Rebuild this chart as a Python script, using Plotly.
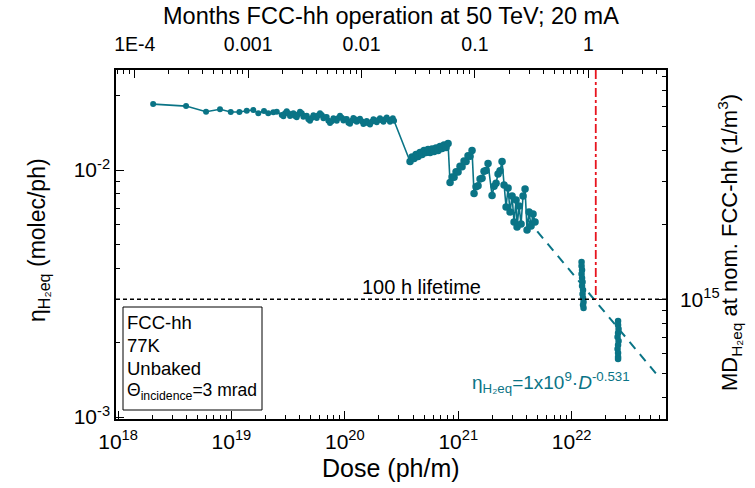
import math
import plotly.graph_objects as go

# ---------------- data ----------------
dose_early = [2.04e18, 3.98e18, 5.97e18, 7.93e18, 9.86e18, 1.175e19, 1.365e19, 1.56e19, 1.726e19,
              1.937e19, 2.11e19, 2.34e19, 2.51e19]
eta_early = [0.01849, 0.01815, 0.01722, 0.01762, 0.01718, 0.01718, 0.01738, 0.01750, 0.01698,
             0.01734, 0.01698, 0.01714, 0.01722]

dose_plateau = [
    2.778e19, 2.874e19, 2.970e19, 3.072e19, 3.176e19, 3.286e19, 3.401e19, 3.517e19, 3.637e19, 3.762e19,
    3.890e19, 4.024e19, 4.169e19, 4.310e19, 4.457e19, 4.610e19, 4.766e19, 4.930e19, 5.107e19, 5.283e19,
    5.461e19, 5.649e19, 5.839e19, 6.040e19, 6.257e19, 6.472e19, 6.690e19, 6.920e19, 7.154e19, 7.400e19,
    7.666e19, 7.930e19, 8.197e19, 8.479e19, 8.766e19, 9.068e19, 9.391e19, 9.714e19,
    1.004e20, 1.039e20, 1.074e20, 1.111e20, 1.150e20, 1.189e20, 1.230e20, 1.272e20, 1.315e20, 1.360e20,
    1.409e20, 1.457e20, 1.507e20, 1.559e20, 1.612e20, 1.668e20, 1.727e20, 1.786e20, 1.846e20, 1.910e20,
    1.974e20, 2.042e20, 2.115e20, 2.188e20, 2.262e20, 2.340e20, 2.419e20, 2.502e20, 2.592e20, 2.650e20,
    2.716e20,
]
eta_plateau = [
    0.01670, 0.01651, 0.01697, 0.01729, 0.01697, 0.01654, 0.01675, 0.01697, 0.01654, 0.01636,
    0.01681, 0.01720, 0.01697, 0.01643, 0.01654, 0.01659, 0.01604, 0.01583, 0.01624, 0.01665,
    0.01643, 0.01624, 0.01665, 0.01698, 0.01670, 0.01621, 0.01635, 0.01639, 0.01583, 0.01550,
    0.01574, 0.01620, 0.01604, 0.01583, 0.01624, 0.01658, 0.01628, 0.01586,
    0.01604, 0.01609, 0.01554, 0.01540, 0.01583, 0.01624, 0.01604, 0.01568, 0.01594, 0.01613,
    0.01574, 0.01536, 0.01554, 0.01579, 0.01545, 0.01529, 0.01568, 0.01606, 0.01583, 0.01560,
    0.01594, 0.01621, 0.01589, 0.01567, 0.01604, 0.01632, 0.01598, 0.01567, 0.01594, 0.01620,
    0.01583,
]

dose_ramps = [
    3.758e20, 3.914e20, 4.076e20, 4.245e20, 4.421e20, 4.604e20, 4.795e20, 4.994e20, 5.201e20, 5.416e20,
    5.641e20, 5.875e20, 6.118e20, 6.372e20, 6.636e20, 6.911e20, 7.197e20, 7.496e20, 7.806e20, 8.130e20,
    8.466e20, 8.817e20, 9.182e20, 9.563e20, 9.959e20, 1.0372e21, 1.0802e21, 1.1249e21, 1.1715e21,
    1.2201e21, 1.2706e21, 1.3233e21,
    1.378e21, 1.435e21, 1.495e21, 1.557e21, 1.621e21, 1.688e21, 1.758e21, 1.831e21,
    1.987e21, 2.069e21, 2.155e21, 2.244e21, 2.337e21, 2.434e21,
    2.534e21, 2.640e21, 2.750e21, 2.863e21, 2.982e21, 3.105e21, 3.234e21, 3.300e21, 3.437e21, 3.579e21,
    3.728e21, 3.882e21, 4.043e21, 4.210e21, 4.385e21, 4.566e21, 4.755e21,
]
eta_ramps = [
    0.010824, 0.011289, 0.011134, 0.011555, 0.011342, 0.011771, 0.011555, 0.011993, 0.011771, 0.012106,
    0.011771, 0.012162, 0.011882, 0.012276, 0.011993, 0.012449, 0.012219, 0.012624, 0.012333, 0.012802,
    0.008900, 0.009377, 0.009351, 0.009852, 0.009815, 0.010351, 0.010312, 0.010875, 0.010835,
    0.011415, 0.011383, 0.011993,
    0.008032, 0.008566, 0.008630, 0.009204, 0.009273, 0.009889, 0.009963, 0.010625,
    0.007887, 0.008591, 0.008850, 0.009643, 0.009935, 0.010824,
    0.008694, 0.007085, 0.008455, 0.006761, 0.007847, 0.006158, 0.007558, 0.005877, 0.007152, 0.006045,
    0.007847, 0.008377, 0.005715, 0.006761, 0.005933, 0.006637, 0.006158,
]

dose_cluster1 = [1.223e22, 1.223e22, 1.235e22, 1.223e22, 1.235e22, 1.248e22, 1.235e22, 1.260e22,
                 1.248e22, 1.260e22, 1.273e22, 1.260e22, 1.273e22]
eta_cluster1 = [0.004240, 0.004086, 0.003936, 0.003792, 0.003654, 0.003520, 0.003391, 0.003267,
                0.003148, 0.003032, 0.002921, 0.002840, 0.002762]

dose_cluster2 = [2.566e22, 2.566e22, 2.592e22, 2.566e22, 2.540e22, 2.592e22, 2.566e22, 2.540e22,
                 2.566e22, 2.566e22, 2.566e22]
eta_cluster2 = [0.002447, 0.002358, 0.002271, 0.002188, 0.002108, 0.002031, 0.001957, 0.001885,
                0.001816, 0.001750, 0.001718]

fit_dose = [4.04e21, 5.78e22]
fit_eta = [6.33e-3, 1.466e-3]

lifetime_eta = 3.0e-3          # 100 h lifetime level
red_dose = 1.632e22            # dose at the red marker line
dose_per_month = 1.403e22      # 1 month of FCC-hh operation
md_at_lifetime = 1e15          # density matching lifetime_eta

x_ticks = [1e18, 1e19, 1e20, 1e21, 1e22]
x_ticktext = ["10<sup>18</sup>", "10<sup>19</sup>", "10<sup>20</sup>", "10<sup>21</sup>", "10<sup>22</sup>"]
y_ticks = [1e-3, 1e-2]
y_ticktext = ["10<sup>-3</sup>", "10<sup>-2</sup>"]
month_ticks = [1e-4, 1e-3, 1e-2, 1e-1, 1]
month_ticktext = ["1E-4", "0.001", "0.01", "0.1", "1"]
md_ticks = [1e15]
md_ticktext = ["10<sup>15</sup>"]

# ---------------- styling ----------------
TEAL = "#0A7486"
FONT = "Liberation Sans, Arial, Helvetica, sans-serif"
L, R, T, B = 116, 89, 70, 69
W, H = 755, 488
PW, PH = W - L - R, H - T - B

xr = [17.982, 22.832]
yr = [-3.008, -1.595]
shift = math.log10(dose_per_month)
md_shift = math.log10(md_at_lifetime) - math.log10(lifetime_eta)


def px_x(px):
    return (px - L) / PW


def px_y(py):
    return (H - B - py) / PH


fig = go.Figure()
fig.add_trace(go.Scatter(x=fit_dose, y=fit_eta, mode="lines",
                         line=dict(color=TEAL, width=2, dash="9px,7px"), hoverinfo="skip"))
main_x = dose_early + dose_plateau + dose_ramps
main_y = eta_early + eta_plateau + eta_ramps
main_sizes = [6] * (len(dose_early) + len(dose_plateau)) + [7.5] * len(dose_ramps)
fig.add_trace(go.Scatter(x=main_x, y=main_y, mode="lines+markers",
                         line=dict(color=TEAL, width=1.6),
                         marker=dict(color=TEAL, size=main_sizes, opacity=1, line=dict(width=0))))
for xs, ys in [(dose_cluster1, eta_cluster1), (dose_cluster2, eta_cluster2)]:
    fig.add_trace(go.Scatter(x=xs, y=ys, mode="lines+markers",
                             line=dict(color=TEAL, width=1.6),
                             marker=dict(color=TEAL, size=6.5, opacity=1, line=dict(width=0))))
# invisible trace so the secondary axes get drawn
fig.add_trace(go.Scatter(x=[1], y=[md_at_lifetime], xaxis="x2", yaxis="y2", mode="markers",
                         marker=dict(opacity=0), hoverinfo="skip"))

axis_common = dict(type="log", showgrid=False, zeroline=False, showline=True, linecolor="black",
                   linewidth=1.5, ticks="inside", ticklen=8, tickwidth=1.2, tickcolor="black",
                   tickfont=dict(family=FONT, size=21, color="black"),
                   minor=dict(ticks="inside", ticklen=4, tickwidth=1.2, tickcolor="black",
                              dtick="D1", showgrid=False))

fig.update_layout(
    width=W, height=H, margin=dict(l=L, r=R, t=T, b=B),
    paper_bgcolor="white", plot_bgcolor="white", showlegend=False,
    font=dict(family=FONT, color="black"),
    xaxis=dict(axis_common, range=xr, tickmode="array", tickvals=x_ticks, ticktext=x_ticktext,
               ticklabelstandoff=3),
    yaxis=dict(axis_common, range=yr, tickmode="array", tickvals=y_ticks, ticktext=y_ticktext),
    xaxis2=dict(axis_common, overlaying="x", side="top", anchor="y",
                range=[xr[0] - shift, xr[1] - shift], tickmode="array",
                tickvals=month_ticks, ticktext=month_ticktext, ticklabelstandoff=9,
                tickfont=dict(family=FONT, size=19.5, color="black")),
    yaxis2=dict(axis_common, overlaying="y", side="right", anchor="x",
                range=[yr[0] + md_shift, yr[1] + md_shift], tickmode="array",
                tickvals=md_ticks, ticktext=md_ticktext, ticklabelstandoff=8),
)

# reference lines
fig.add_shape(type="line", xref="paper", yref="y", x0=0, x1=1, y0=lifetime_eta, y1=lifetime_eta,
              line=dict(color="black", width=1.6, dash="4px,3px"))
fig.add_shape(type="line", xref="x", yref="paper", x0=red_dose, x1=red_dose,
              y0=1, y1=(math.log10(lifetime_eta) - yr[0]) / (yr[1] - yr[0]),
              line=dict(color="#E8141E", width=1.8, dash="dashdot"))

# info box
fig.add_shape(type="rect", xref="paper", yref="paper", x0=px_x(123), x1=px_x(262),
              y0=px_y(410), y1=px_y(307), line=dict(color="black", width=1), fillcolor="white")
for txt, py, sz in [("FCC-hh", 322, 18.5), ("77K", 345, 18.5), ("Unbaked", 368, 18.5),
                    ("Θ<sub>incidence</sub>=3 mrad", 391, 17.5)]:
    fig.add_annotation(xref="paper", yref="paper", x=px_x(125), y=px_y(py), text=txt,
                       showarrow=False, xanchor="left", yanchor="middle",
                       font=dict(family=FONT, size=sz, color="black"))


def label(text, px, py, size, color="black", angle=0):
    fig.add_annotation(xref="paper", yref="paper", x=px_x(px), y=px_y(py), text=text,
                       showarrow=False, xanchor="center", yanchor="middle", textangle=angle,
                       font=dict(family=FONT, size=size, color=color))


label("100 h lifetime", 421, 287, 20)
label("η<sub>H₂eq</sub>=1x10<sup>9</sup>·<i>D</i><sup>-0.531</sup>", 551, 382, 19, TEAL)
label("Dose (ph/m)", 391, 468, 25)
label("Months FCC-hh operation at 50 TeV; 20 mA", 391, 16, 23.5)
label("η<sub>H₂eq</sub> (molec/ph)", 38, 240, 23, angle=-90)
label("MD<sub>H₂eq</sub> at nom. FCC-hh (1/m<sup>3</sup>)", 729, 243, 22, angle=-90)

fig.write_html("out.html")
